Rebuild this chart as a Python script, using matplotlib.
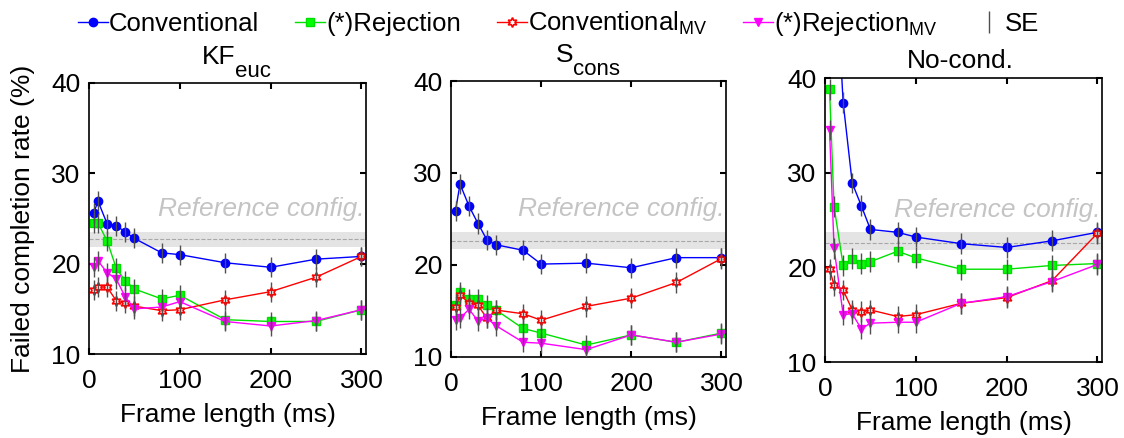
import numpy as np
import matplotlib
matplotlib.use("Agg")
import matplotlib.pyplot as plt
from matplotlib.lines import Line2D

plt.rcParams['font.family'] = ['Liberation Sans', 'DejaVu Sans']
plt.rcParams['mathtext.fontset'] = 'custom'
plt.rcParams['mathtext.rm'] = 'Liberation Sans'
plt.rcParams['mathtext.it'] = 'Liberation Sans:italic'

# frame lengths (ms)
frames = [5, 10, 20, 30, 40, 50, 80, 100, 150, 200, 250, 300]

# panel titles: (main, subscript)
titles = [('KF', 'euc'), ('S', 'cons'), ('No-cond.', '')]

# failed completion rate (%) per panel
conv = [
    [25.6, 26.9, 24.4, 24.2, 23.5, 22.8, 21.2, 21.0, 20.1, 19.6, 20.5, 20.8],
    [25.9, 28.8, 26.4, 24.5, 22.7, 22.2, 21.6, 20.1, 20.2, 19.7, 20.8, 20.8],
    [62.0, 55.0, 37.4, 28.9, 26.5, 24.0, 23.7, 23.2, 22.5, 22.1, 22.8, 23.7],
]
rej = [
    [24.5, 24.5, 22.5, 19.5, 18.1, 17.2, 16.1, 16.5, 13.8, 13.6, 13.6, 14.9],
    [15.7, 17.1, 16.3, 16.3, 15.6, 15.1, 13.1, 12.6, 11.3, 12.4, 11.6, 12.6],
    [38.8, 26.4, 20.2, 20.9, 20.4, 20.6, 21.7, 21.0, 19.8, 19.8, 20.2, 20.4],
]
conv_mv = [
    [17.1, 17.4, 17.4, 15.9, 15.6, 15.3, 14.8, 14.9, 16.0, 16.9, 18.5, 20.8],
    [15.4, 16.7, 15.9, 15.6, 14.2, 15.1, 14.7, 14.0, 15.5, 16.4, 18.1, 20.7],
    [19.8, 18.1, 17.6, 15.5, 15.3, 15.5, 14.8, 15.0, 16.2, 16.8, 18.6, 23.6],
]
rej_mv = [
    [19.6, 20.3, 19.0, 18.3, 16.3, 15.0, 15.2, 15.8, 13.6, 13.1, 13.7, 14.9],
    [14.0, 14.2, 15.2, 13.9, 14.2, 13.4, 11.6, 11.5, 10.8, 12.4, 11.6, 12.5],
    [34.5, 22.0, 15.0, 15.1, 13.5, 14.1, 14.2, 14.2, 16.2, 16.9, 18.5, 20.3],
]
se = 1.1

# reference configuration band (mean, low, high)
ref_mean = [22.7, 22.6, 22.6]
ref_low = [21.9, 21.7, 21.8]
ref_high = [23.5, 23.6, 23.7]

positions = [
    [89/1124, 84/438, 277/1124, 271/438],
    [451/1124, 81/438, 275/1124, 276/438],
    [825/1124, 76/438, 277/1124, 284/438],
]
# where title main/subscript meet (axes fraction)
title_x = [0.527, 0.444, 0.487]

fig = plt.figure(figsize=(11.24, 4.38), dpi=100)

styles = [
    (conv, 'Conventional', dict(color='blue', marker='o', ms=6, mfc='blue', mec='blue')),
    (rej, '(*)Rejection', dict(color='#00e000', marker='s', ms=5.5, mfc='#00ff00', mec='#00e000')),
    (conv_mv, 'Conventional$_{\\mathrm{MV}}$', dict(color='red', marker=(6, 1, 0), ms=7, mfc='white', mec='red', mew=1.2)),
    (rej_mv, '(*)Rejection$_{\\mathrm{MV}}$', dict(color='magenta', marker='v', ms=6, mfc='magenta', mec='magenta')),
]

fs = 19
for i in range(3):
    ax = fig.add_axes(positions[i])
    ax.axhspan(ref_low[i], ref_high[i], color='#e4e4e4', lw=0, zorder=0)
    ax.axhline(ref_mean[i], color='#a8a8a8', ls='--', lw=0.8, zorder=0.5)
    ax.text(304, 25.3, 'Reference config.', style='italic', color='#c4c4c4',
            fontsize=fs, ha='right', va='baseline', zorder=0.6)
    for data, label, st in styles:
        y = np.array(data[i])
        ax.errorbar(frames, y, yerr=se, fmt='none', ecolor='#505050', elinewidth=1, zorder=3)
        ax.plot(frames, y, lw=1, label=label, zorder=2, **st)
    ax.set_xlim(0, 305)
    ax.set_ylim(10, 40)
    ax.set_xticks([0, 100, 200, 300])
    ax.set_yticks([10, 20, 30, 40])
    ax.tick_params(direction='in', top=True, right=True, labelsize=fs, length=4, width=1.5)
    ax.tick_params(axis='x', pad=11)
    ax.tick_params(axis='y', pad=6)
    main, sub = titles[i]
    if sub:
        ax.annotate(main, (title_x[i], 1), xycoords='axes fraction', xytext=(0, 14),
                    textcoords='offset points', ha='right', va='baseline', fontsize=fs)
        ax.annotate(sub, (title_x[i], 1), xycoords='axes fraction', xytext=(0, 4),
                    textcoords='offset points', ha='left', va='baseline', fontsize=16)
    else:
        ax.annotate(main, (title_x[i], 1), xycoords='axes fraction', xytext=(0, 7),
                    textcoords='offset points', ha='center', va='baseline', fontsize=fs)
    ax.set_xlabel('Frame length (ms)', fontsize=fs, labelpad=7)
    if i == 0:
        ax.set_ylabel('Failed completion rate (%)', fontsize=fs, labelpad=12)
    for s in ax.spines.values():
        s.set_linewidth(1.2)

handles, labels = ax.get_legend_handles_labels()
handles.append(Line2D([], [], color='#505050', marker='|', ls='none', ms=16))
labels.append('SE')
fig.legend(handles, labels, loc='upper center', bbox_to_anchor=(0.497, 1.03), ncol=5,
           frameon=False, fontsize=18.5, handlelength=1.15, handletextpad=0.05, columnspacing=1.4)

fig.savefig('out.png', dpi=100)
